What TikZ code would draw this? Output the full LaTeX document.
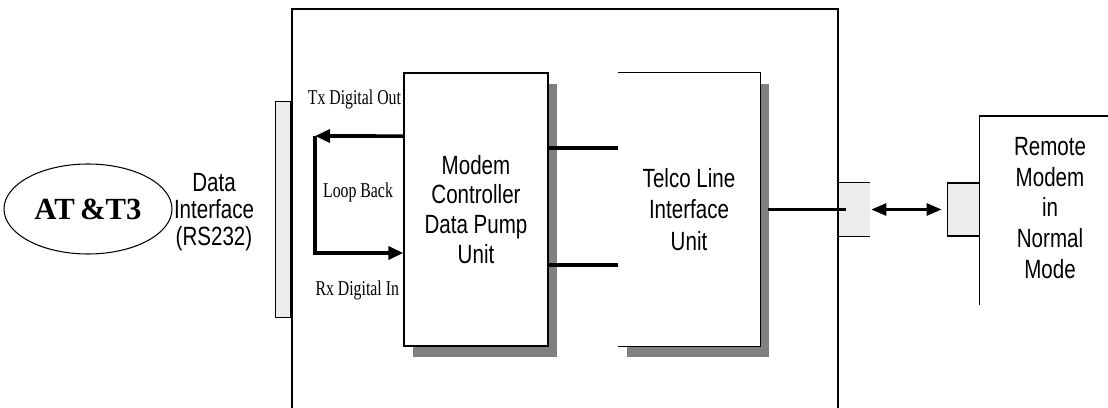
\documentclass[tikz,border=0pt]{standalone}
\usepackage{fontspec}
\setmainfont{Liberation Sans}[FakeStretch=0.78]
\newfontfamily\tagfont{Liberation Serif}[FakeStretch=0.75]
\newfontfamily\logofont{Liberation Serif}
\usetikzlibrary{shapes.geometric}
\usetikzlibrary{arrows.meta}
\usetikzlibrary{shadows}

\begin{document}
\begin{tikzpicture}[x=0.02cm, y=-0.02cm, unit/.style={rectangle, fill=white, align=center, inner sep=0pt, minimum width=2.88cm, minimum height=5.46cm, font=\fontsize{15}{17}\selectfont, drop shadow={shadow xshift=0.18cm, shadow yshift=-0.22cm, fill=gray, opacity=1}}, port/.style={rectangle, fill=gray!15, inner sep=0pt, minimum height=1.06cm}, tag/.style={font=\tagfont\fontsize{12}{14}\selectfont, inner sep=0pt}, bus/.style={line width=2pt}, loophead/.tip={Triangle[length=0.3cm, width=0.26cm]}, linehead/.tip={Triangle[length=0.3cm, width=0.24cm]}]
	\useasboundingbox (0,0) rectangle (1108,408);

	% nodes
	\node[draw, line width=0.8pt, inner sep=0pt, minimum width=10.92cm, minimum height=8.4cm] (housing) at (565,219) {}; %
	\node[ellipse, draw, line width=0.6pt, minimum width=3.14cm, minimum height=1.8cm, font=\logofont\bfseries\fontsize{17.5}{20}\selectfont] (att) at (88,209) {AT\,\&T3}; %
	\node[align=center, font=\fontsize{15}{15.5}\selectfont] (dataif) at (214,212) {Data\\Interface\\(RS232)}; %
	\node[unit, draw, line width=0.8pt] (modem) at (476,209.5) {Modem\\Controller\\Data Pump\\Unit}; %
	\node[unit, minimum width=2.84cm, font=\fontsize{15}{18}\selectfont] (telco) at (689,209.5) {Telco Line\\Interface\\Unit}; %
	\node[port, draw, line width=0.6pt, minimum width=0.3cm, minimum height=4.32cm, anchor=east] (lport) at (housing.west |- modem) {}; %
	\node[port, minimum width=0.62cm, anchor=west] (rport) at (housing.east |- modem) {}; %
	\node[align=center, inner sep=0pt, minimum width=2.8cm, minimum height=3.66cm, font=\fontsize{15}{17.5}\selectfont] (remote) at (1050,208) {Remote\\Modem\\in\\Normal\\Mode}; %
	\node[port, draw, line width=0.6pt, minimum width=0.64cm, anchor=east] (rmport) at (remote.west |- rport) {}; %
	\coordinate (lbtop) at (315,136); %
	\coordinate (lbbot) at (315,253); %

	% labels
	\node[tag, anchor=east] (txout) at ([xshift=-0.04cm]modem.west |- 0,99) {Tx Digital Out}; %
	\node[tag] (loop) at (358,192) {Loop Back}; %
	\node[tag, anchor=east] (rxin) at ([xshift=-0.08cm]modem.west |- 0,290) {Rx Digital In}; %

	% box edges
	\draw[line width=0.8pt] (telco.north west) -- (telco.north east) -- (telco.south east) -- (telco.south west);
	\draw[line width=0.6pt] (rport.north west) -- (rport.north east) (rport.south west) -- (rport.south east);
	\draw[line width=0.8pt] ([yshift=-0.1cm]remote.south west) -- (remote.north west) -- (remote.north east);

	% edges
	\draw[bus, -loophead] ([yshift=1.47cm]modem.west) -- (lbtop);
	\draw[bus, -loophead] (lbtop) -- (lbbot) -- (modem.west |- lbbot);
	\draw[bus] ([yshift=1.23cm]modem.east) -- ([yshift=1.23cm]telco.west);
	\draw[bus] ([yshift=-1.11cm]modem.east) -- ([yshift=-1.11cm]telco.west);
	\draw[bus] ([xshift=0.16cm]telco.east) -- ([xshift=0.14cm]rport.west);
	\draw[line width=1.6pt, linehead-linehead] ([xshift=0.02cm]rport.east) -- ([xshift=-0.1cm]rmport.west);
\end{tikzpicture}
\end{document}
